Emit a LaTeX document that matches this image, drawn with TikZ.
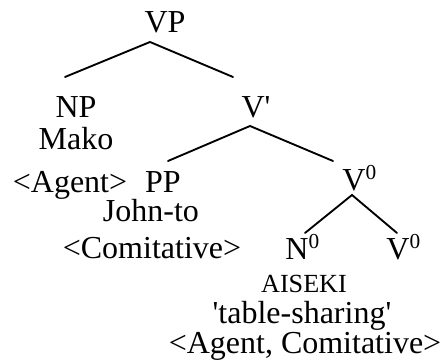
\documentclass[tikz,border=0pt]{standalone}
\usepackage{fontspec}
\setmainfont{Liberation Serif}

\begin{document}
\begin{tikzpicture}[x=0.375pt,y=-0.375pt,line width=0.7pt,line cap=round,
    cat/.style={anchor=base,inner sep=0pt,font=\fontsize{12}{14}\selectfont},
    gloss/.style={cat,font=\fontsize{9.8}{11}\selectfont}]
  \useasboundingbox (0,0) rectangle (444,362);
  % categories and words
  \node[cat] (vp)    at (165,33)  {VP};
  \node[cat] (np)    at (76,118)  {NP};
  \node[cat] (mako)  at (76,150)  {Mako};
  \node[cat] (vbar)  at (256,118) {V\textquotesingle};
  \node[cat] (agt)   at (70,193)  {<Agent>};
  \node[cat] (pp)    at (163,193) {PP};
  \node[cat] (vzero) at (360,191) {V\textsuperscript{0}};
  \node[cat] (john)  at (151,222) {John-to};
  \node[cat] (com)   at (152,259) {<Comitative>};
  \node[cat] (nzero) at (303,260) {N\textsuperscript{0}};
  \node[cat] (vlow)  at (404,260) {V\textsuperscript{0}};
  \node[gloss] (aiseki) at (304,293) {AISEKI};
  \node[cat] (tbl)   at (302,324) {\textquotesingle table-sharing\textquotesingle};
  \node[cat] (agcom) at (305,354) {<Agent, Comitative>};
  % branch points
  \coordinate (vp-b)    at (150,42);
  \coordinate (np-t)    at (65,77);
  \coordinate (vbar-t)  at (233,77);
  \coordinate (vbar-b)  at (250,126);
  \coordinate (pp-t)    at (168,161);
  \coordinate (vzero-t) at (333,161);
  \coordinate (vzero-b) at (352,195);
  \coordinate (nzero-t) at (305,233);
  \coordinate (vlow-t)  at (397,233);
  % branches
  \draw (np-t) -- (vp-b) -- (vbar-t);
  \draw (pp-t) -- (vbar-b) -- (vzero-t);
  \draw (nzero-t) -- (vzero-b) -- (vlow-t);
\end{tikzpicture}
\end{document}
